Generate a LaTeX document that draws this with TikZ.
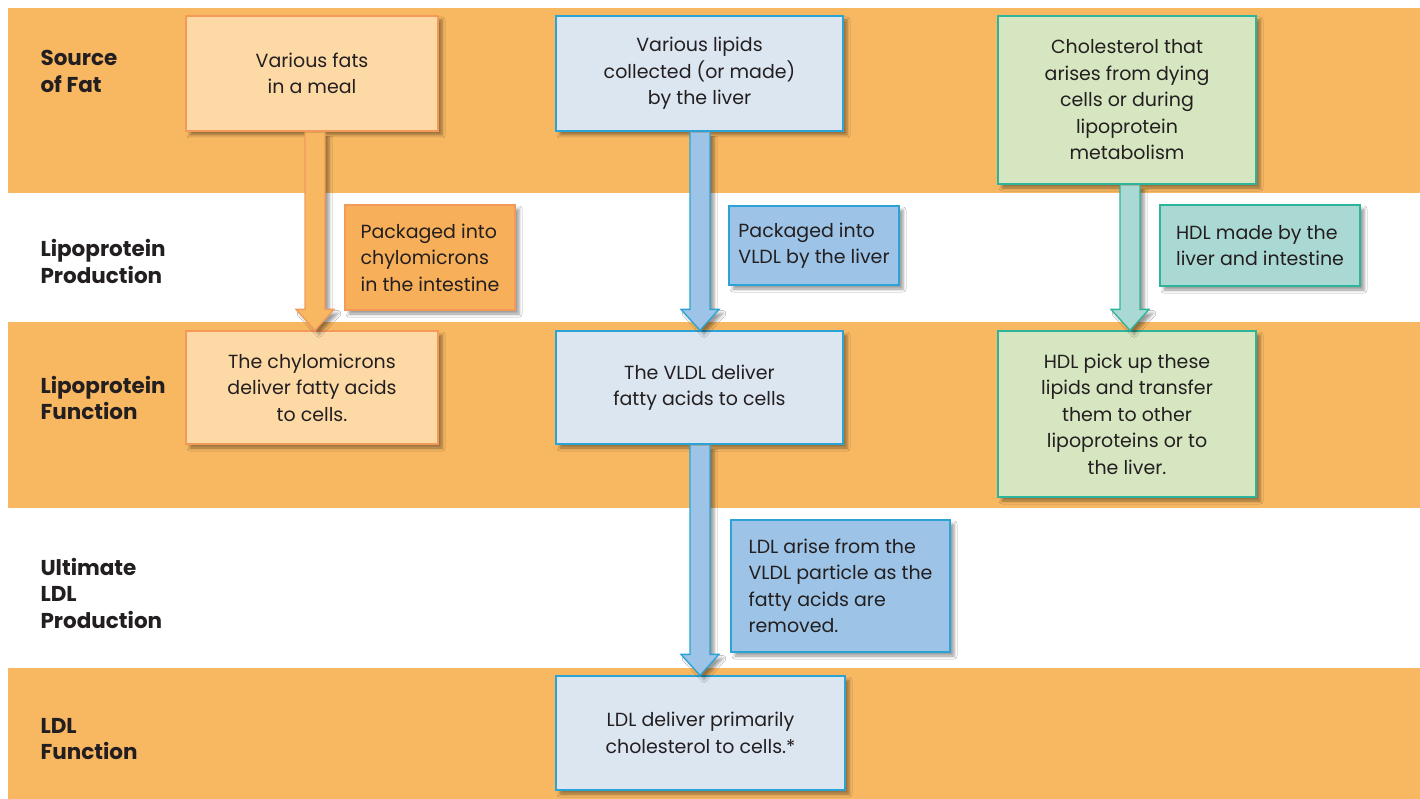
\documentclass[tikz,border=0pt]{standalone}
\usepackage{fontspec}
\setmainfont{Poppins}
\usetikzlibrary{calc,shadows.blur}

\definecolor{band}{HTML}{F8B862}
\definecolor{peach}{HTML}{FDD9A6}
\definecolor{peachline}{HTML}{F39A5B}
\definecolor{orangebox}{HTML}{F7AF5A}
\definecolor{paleblue}{HTML}{DCE6F1}
\definecolor{midblue}{HTML}{9DC3E6}
\definecolor{blueline}{HTML}{2BA3D4}
\definecolor{palegreen}{HTML}{D5E6C0}
\definecolor{tealbox}{HTML}{AAD9D4}
\definecolor{tealline}{HTML}{2DB59C}
\definecolor{ink}{HTML}{231F20}

% block arrow hanging from the bottom of one box down to the top of the next;
% #4 shifts it sideways, and the outline is left open at the top
\newcommand\blockarrow[4]{%
  \draw[#1] let \p1=($(#2.south)+(#4,0)$), \p2=(#3.north) in
    (\x1-10pt,\y1-0.7pt) -- (\x1-10pt,\y2+21pt) -- (\x1-19pt,\y2+21pt) -- (\x1,\y2)
    -- (\x1+19pt,\y2+21pt) -- (\x1+10pt,\y2+21pt) -- (\x1+10pt,\y1-0.7pt);}

\begin{document}
\begin{tikzpicture}[x=1pt,y=-1pt,
  softshadow/.style={blur shadow={shadow xshift=4pt, shadow yshift=-4pt,
      shadow blur radius=3pt, shadow opacity=40}},
  box/.style={draw, line width=1.3pt, align=center, inner sep=0pt, text=ink,
      font=\fontsize{19}{26.5}\selectfont, softshadow},
  lbox/.style={box, align=left},
  lab/.style={anchor=west, align=left, text=ink,
      font=\fontsize{21.5}{26.5}\selectfont\bfseries},
  orangearrow/.style={fill=band, draw=peachline, line width=1.3pt, softshadow},
  bluearrow/.style={fill=midblue, draw=blueline, line width=1.3pt, softshadow},
  tealarrow/.style={fill=tealbox, draw=tealline, line width=1.3pt, softshadow}]

\useasboundingbox (0,0) rectangle (1420,799);
\fill[white] (0,0) rectangle (1420,799);

% horizontal bands
\fill[band] (8,8) rectangle (1420,193);
\fill[band] (8,322) rectangle (1420,508);
\fill[band] (8,668) rectangle (1420,799);

% row labels
\node[lab] (r1) at (37,71.5) {Source\\of Fat};
\node[lab] (r2) at (37,261.5) {Lipoprotein\\Production};
\node[lab] (r3) at (37,398) {Lipoprotein\\Function};
\node[lab] (r4) at (37,593) {Ultimate\\LDL\\Production};
\node[lab] (r5) at (37,739) {LDL\\Function};

% source row
\node[box, fill=peach, draw=peachline, minimum width=252pt, minimum height=115pt]
  (fats) at (312,73.5) {Various fats\\in a meal};
\node[box, fill=paleblue, draw=blueline, minimum width=287pt, minimum height=115pt]
  (lipids) at (699.5,73.5) {Various lipids\\collected (or made)\\by the liver};
\node[box, fill=palegreen, draw=tealline, minimum width=258pt, minimum height=168pt]
  (chol) at (1127,100) {Cholesterol that\\arises from dying\\cells or during\\lipoprotein\\metabolism};

% production notes
\node[lbox, fill=orangebox, draw=peachline, minimum width=170pt, minimum height=105pt]
  (pkchylo) at (430,257.5) {Packaged into\\chylomicrons\\in the intestine};
\node[lbox, fill=midblue, draw=blueline, minimum width=170pt, minimum height=79pt]
  (pkvldl) at (814,245.5) {Packaged into\\VLDL by the liver};
\node[lbox, fill=tealbox, draw=tealline, minimum width=200pt, minimum height=81pt]
  (hdlmade) at (1260,245.5) {HDL made by the\\liver and intestine};

% function row
\node[box, fill=peach, draw=peachline, minimum width=252pt, minimum height=113pt]
  (chylofn) at (312,387.5) {The chylomicrons\\deliver fatty acids\\to cells.};
\node[box, fill=paleblue, draw=blueline, minimum width=287pt, minimum height=113pt]
  (vldlfn) at (699.5,387.5) {The VLDL deliver\\fatty acids to cells};
\node[box, fill=palegreen, draw=tealline, minimum width=258pt, minimum height=166pt]
  (hdlfn) at (1127,414) {HDL pick up these\\lipids and transfer\\them to other\\lipoproteins or to\\the liver.};

% LDL rows
\node[lbox, fill=midblue, draw=blueline, minimum width=219pt, minimum height=132pt]
  (ldlarise) at (840.5,586) {LDL arise from the\\VLDL particle as the\\fatty acids are\\removed.};
\node[box, fill=paleblue, draw=blueline, minimum width=289pt, minimum height=114pt]
  (ldlfn) at (700.5,733) {LDL deliver primarily\\cholesterol to cells.*};

% arrows between the boxes of each column
\blockarrow{orangearrow}{fats}{chylofn}{3}
\blockarrow{bluearrow}{lipids}{vldlfn}{0.5}
\blockarrow{tealarrow}{chol}{hdlfn}{3}
\blockarrow{bluearrow}{vldlfn}{ldlfn}{0.5}

\end{tikzpicture}
\end{document}
